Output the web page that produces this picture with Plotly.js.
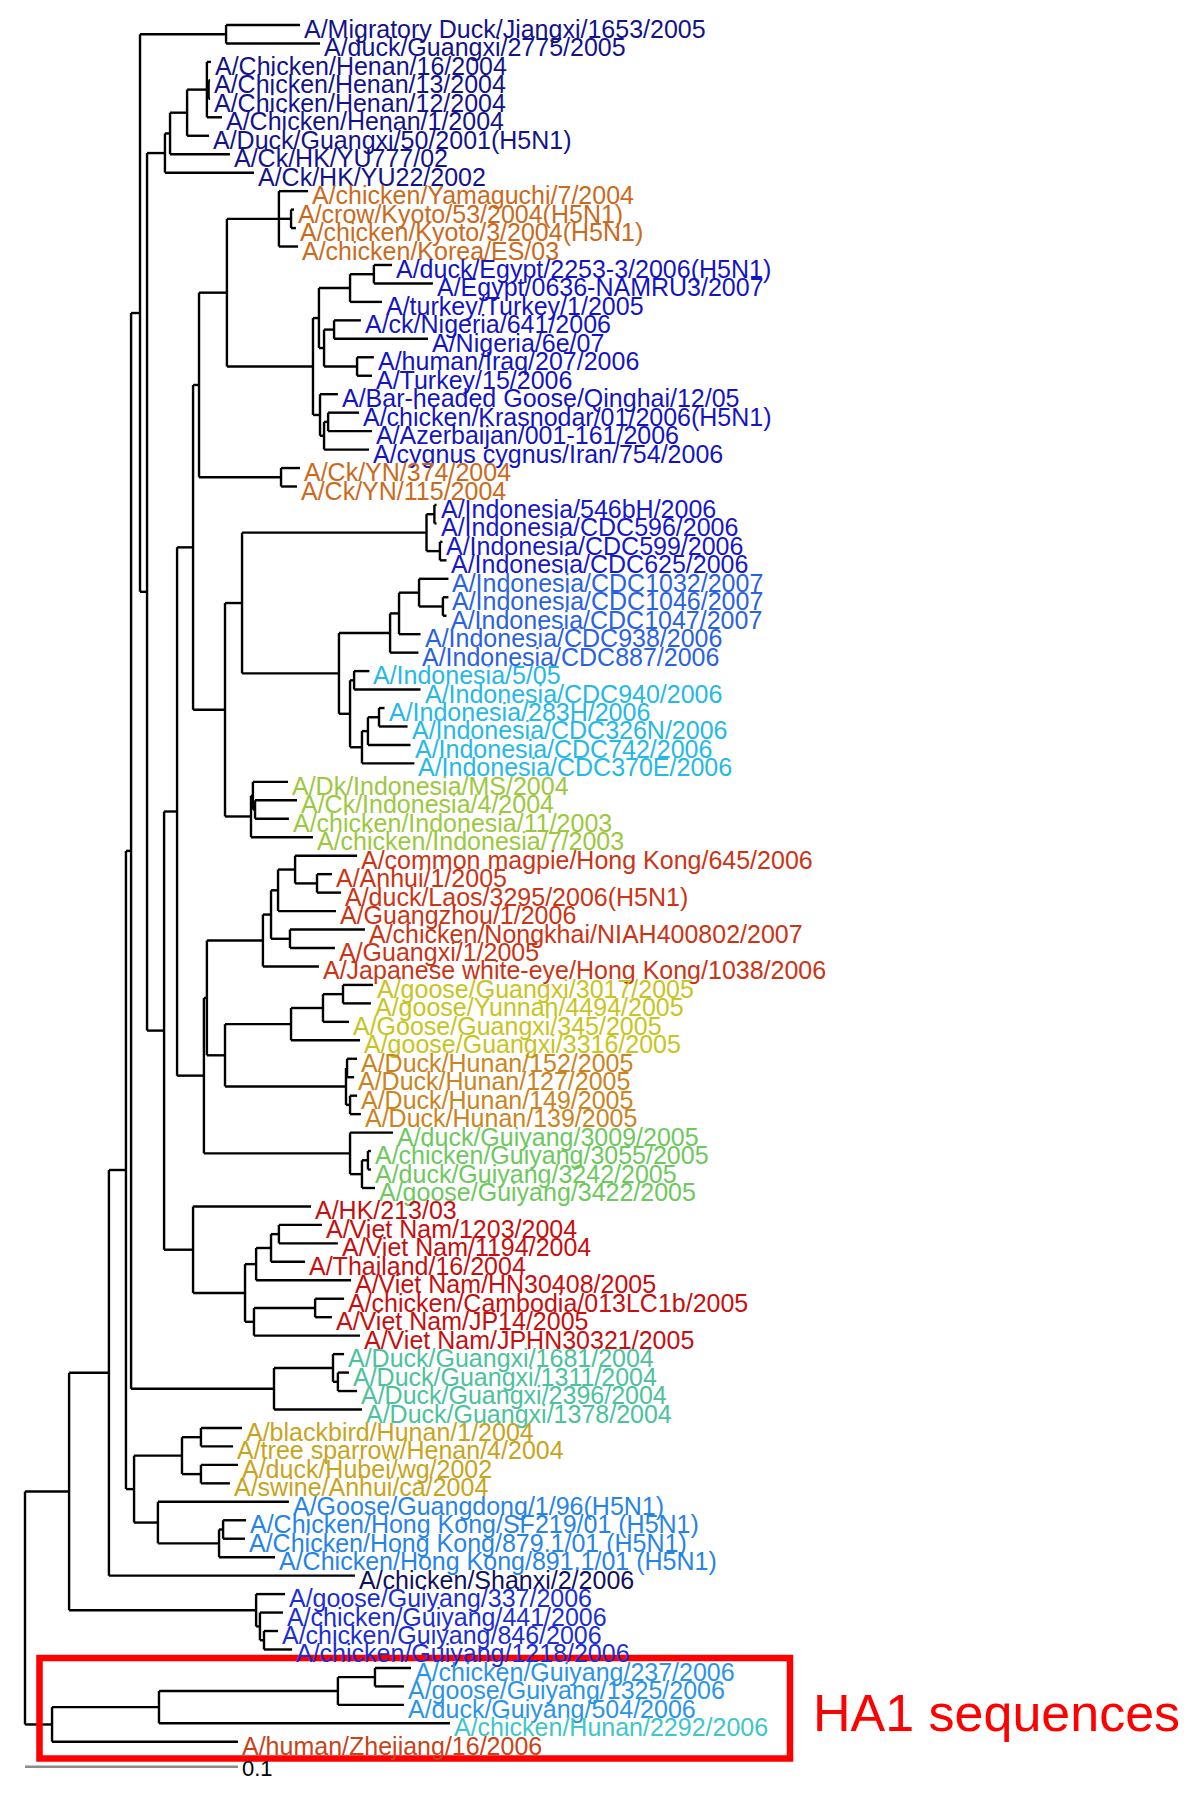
<!DOCTYPE html>
<html>
<head>
<meta charset="utf-8">
<script src="https://cdn.plot.ly/plotly-3.0.1.min.js"></script>
<style>html,body{margin:0;padding:0;background:#fff;}#chart{width:1200px;height:1798px;}</style>
</head>
<body>
<div id="chart"></div>
<script>
// ---- Tree data: leaves in display order (top to bottom) ----
const leafNames = [
 "A/Migratory Duck/Jiangxi/1653/2005","A/duck/Guangxi/2775/2005","A/Chicken/Henan/16/2004","A/Chicken/Henan/13/2004",
 "A/Chicken/Henan/12/2004","A/Chicken/Henan/1/2004","A/Duck/Guangxi/50/2001(H5N1)","A/Ck/HK/YU777/02","A/Ck/HK/YU22/2002",
 "A/chicken/Yamaguchi/7/2004","A/crow/Kyoto/53/2004(H5N1)","A/chicken/Kyoto/3/2004(H5N1)","A/chicken/Korea/ES/03",
 "A/duck/Egypt/2253-3/2006(H5N1)","A/Egypt/0636-NAMRU3/2007","A/turkey/Turkey/1/2005","A/ck/Nigeria/641/2006","A/Nigeria/6e/07",
 "A/human/Iraq/207/2006","A/Turkey/15/2006","A/Bar-headed Goose/Qinghai/12/05","A/chicken/Krasnodar/01/2006(H5N1)",
 "A/Azerbaijan/001-161/2006","A/cygnus cygnus/Iran/754/2006","A/Ck/YN/374/2004","A/Ck/YN/115/2004",
 "A/Indonesia/546bH/2006","A/Indonesia/CDC596/2006","A/Indonesia/CDC599/2006","A/Indonesia/CDC625/2006",
 "A/Indonesia/CDC1032/2007","A/Indonesia/CDC1046/2007","A/Indonesia/CDC1047/2007","A/Indonesia/CDC938/2006","A/Indonesia/CDC887/2006",
 "A/Indonesia/5/05","A/Indonesia/CDC940/2006","A/Indonesia/283H/2006","A/Indonesia/CDC326N/2006","A/Indonesia/CDC742/2006","A/Indonesia/CDC370E/2006",
 "A/Dk/Indonesia/MS/2004","A/Ck/Indonesia/4/2004","A/chicken/Indonesia/11/2003","A/chicken/Indonesia/7/2003",
 "A/common magpie/Hong Kong/645/2006","A/Anhui/1/2005","A/duck/Laos/3295/2006(H5N1)","A/Guangzhou/1/2006",
 "A/chicken/Nongkhai/NIAH400802/2007","A/Guangxi/1/2005","A/Japanese white-eye/Hong Kong/1038/2006",
 "A/goose/Guangxi/3017/2005","A/goose/Yunnan/4494/2005","A/Goose/Guangxi/345/2005","A/goose/Guangxi/3316/2005",
 "A/Duck/Hunan/152/2005","A/Duck/Hunan/127/2005","A/Duck/Hunan/149/2005","A/Duck/Hunan/139/2005",
 "A/duck/Guiyang/3009/2005","A/chicken/Guiyang/3055/2005","A/duck/Guiyang/3242/2005","A/goose/Guiyang/3422/2005",
 "A/HK/213/03","A/Viet Nam/1203/2004","A/Viet Nam/1194/2004","A/Thailand/16/2004","A/Viet Nam/HN30408/2005",
 "A/chicken/Cambodia/013LC1b/2005","A/Viet Nam/JP14/2005","A/Viet Nam/JPHN30321/2005",
 "A/Duck/Guangxi/1681/2004","A/Duck/Guangxi/1311/2004","A/Duck/Guangxi/2396/2004","A/Duck/Guangxi/1378/2004",
 "A/blackbird/Hunan/1/2004","A/tree sparrow/Henan/4/2004","A/duck/Hubei/wg/2002","A/swine/Anhui/ca/2004",
 "A/Goose/Guangdong/1/96(H5N1)","A/Chicken/Hong Kong/SF219/01 (H5N1)","A/Chicken/Hong Kong/879.1/01 (H5N1)","A/Chicken/Hong Kong/891.1/01 (H5N1)",
 "A/chicken/Shanxi/2/2006","A/goose/Guiyang/337/2006","A/chicken/Guiyang/441/2006","A/chicken/Guiyang/846/2006","A/chicken/Guiyang/1218/2006",
 "A/chicken/Guiyang/237/2006","A/goose/Guiyang/1325/2006","A/duck/Guiyang/504/2006","A/chicken/Hunan/2292/2006","A/human/Zhejiang/16/2006"
];
const leafParent = [
 "nA","nA","n207h","n208h","n208h","n207h","n187","n170","n165",
 "nJP","nKY","nKY","nJP",
 "n374e","n374e","n350e","nNg","nNg","nIq","nIq","nE3","nE5","nE5","nE4","nYN","nYN",
 "n436","n436","n442","n442",
 "n419","n445","n445","n399","n390",
 "n354","n354","n379","n379","n368","n362",
 "n253","n255","n255","n251",
 "n295","n317","n317","n278","n290","n290","n263",
 "n343","n343","n323","n291",
 "n347","n347","n350h","n350h",
 "n350g","n368g","n368g","n362g",
 "n193b","n279v","n279v","n271v","n256","n315","n315","n254",
 "n333","n338g","n338g","nGX04",
 "n201a","n201a","n201b","n201b",
 "n158","n223","n223","n219",
 "n109","nG06","nG06b","nG06c","nG06c",
 "n375","n375","n338","n159","n52"
];
// distance from root (substitutions/site)
const leafDist = [
 0.1291,0.1385,0.0873,0.0869,0.0869,0.0925,0.0864,0.0962,0.1075,
 0.1329,0.1263,0.1272,0.1282,
 0.1723,0.1915,0.1676,0.1577,0.1892,0.1638,0.1629,0.1469,0.1568,0.1629,0.1615,0.1291,0.1277,
 0.1932,0.1932,0.1960,0.1979,
 0.1988,0.1988,0.1979,0.1857,0.1847,
 0.1617,0.1857,0.1688,0.1796,0.1810,0.1828,
 0.1235,0.1277,0.1239,0.1352,
 0.1559,0.1441,0.1484,0.1460,0.1596,0.1455,0.1380,
 0.1634,0.1624,0.1521,0.1573,
 0.1559,0.1545,0.1559,0.1577,
 0.1728,0.1624,0.1624,0.1643,
 0.1343,0.1394,0.1469,0.1315,0.1531,0.1498,0.1441,0.1573,
 0.1498,0.1521,0.1559,0.1582,
 0.1019,0.0977,0.1000,0.0962,
 0.1239,0.1038,0.1033,0.1174,
 0.1549,0.1221,0.1211,0.1188,0.1254,
 0.1812,0.1779,0.1779,0.1995,0.1000
];
const leafGroup = [
 0,0,0,0,0,0,0,0,0,
 1,1,1,1,
 2,2,2,2,2,2,2,2,2,2,2,1,1,
 3,3,3,3,
 4,4,4,4,4,
 5,5,5,5,5,5,
 6,6,6,6,
 7,7,7,7,7,7,7,
 8,8,8,8,
 9,9,9,9,
 10,10,10,10,
 11,11,11,11,11,11,11,11,
 12,12,12,12,
 13,13,13,13,
 14,14,14,14,
 15,16,16,16,16,
 17,17,17,18,19
];
const groupColors = [
 "#13138c","#cc6a1c","#1414c4","#1717cc","#2a62e4","#26b8e6","#9cc840","#cc3414","#c8c422","#cc8420",
 "#6ec85e","#c80e0e","#4cc29c","#c8a41c","#2684e8","#10105e","#1c2ed4","#2a94e8","#40c6c6","#c84418"
];
// internal nodes
const nodeIds = [
 "R","n69","n52","n159","n338","n375","n109","nG06","nG06b","nG06c","n126","n131","n134","n182","n201a","n201b",
 "n158","n219","n223","n140","nGX04","n333","n338g","nA","n147","n165","n170","n187","n207h","n208h","n164","n177",
 "n193b","n193a","n204","n199","n227","nJP","nKY","nE1","nE2","n350e","n374e","nN","nNg","nIq","nE3","nE4","nE5",
 "nYN","n225i","n242","n428","n436","n442","n339","n390","n399","n419","n445","n350c","n354","n362","n368","n379",
 "n251","n253","n255","n207","n263","n271","n278","n295","n317","n290","n225g","n291","n323","n343","n346","n347",
 "n350h","n350g","n362g","n368g","n245","n256","n271v","n279v","n254","n315"
];
const nodeParent = [
 null,"R","R","n52","n159","n338","n69","n69","nG06","nG06b","n109","n126","n126","n134","n182","n182",
 "n134","n158","n219","n131","n131","nGX04","n333","n140","n140","n147","n165","n170","n187","n207h","n147","n164",
 "n164","n177","n177","n193a","n199","n227","nJP","n227","nE1","nE2","n350e","nE2","nN","nN","nE1","nE3","nE4",
 "n199","n193a","n225i","n242","n428","n428","n242","n339","n390","n399","n419","n339","n350c","n350c","n362","n368",
 "n225i","n251","n253","n204","n207","n263","n271","n278","n295","n271","n207","n225g","n291","n323","n225g","n346",
 "n346","n204","n350g","n362g","n193b","n245","n256","n271v","n245","n254"
];
const nodeDist = [
 0,0.0207,0.0127,0.0629,0.1469,0.1643,0.0394,0.1085,0.1103,0.1122,0.0474,0.0498,0.0512,0.0737,0.0826,0.0826,
 0.0624,0.0911,0.0930,0.0540,0.1169,0.1446,0.1469,0.0944,0.0573,0.0657,0.0681,0.0761,0.0854,0.0862,0.0653,0.0714,
 0.0789,0.0789,0.0840,0.0817,0.0948,0.1192,0.1249,0.1352,0.1380,0.1526,0.1638,0.1404,0.1451,0.1559,0.1385,0.1404,0.1423,
 0.1202,0.0939,0.1019,0.1885,0.1922,0.1948,0.1474,0.1714,0.1756,0.1850,0.1962,0.1526,0.1545,0.1582,0.1610,0.1662,
 0.1061,0.1070,0.1080,0.0854,0.1117,0.1155,0.1188,0.1268,0.1371,0.1244,0.0939,0.1249,0.1399,0.1493,0.1507,0.1512,
 0.1526,0.1526,0.1582,0.1610,0.1033,0.1085,0.1155,0.1192,0.1075,0.1362
];
const scaleBarLength = 0.1;
const scaleBarLabel = "0.1";
const boxLabel = "HA1 sequences";

// ---- Build geometry from the tree ----
const dist = {}, children = {};
nodeIds.forEach((id, k) => { dist[id] = nodeDist[k]; children[id] = []; });
const yOf = {};
leafNames.forEach((nm, i) => { children[leafParent[i]].push({leaf: i}); });
nodeIds.forEach((id, k) => { if (nodeParent[k]) children[nodeParent[k]].push({node: id}); });
function nodeY(id) {
  if (yOf[id] !== undefined) return yOf[id];
  const ys = children[id].map(c => c.leaf !== undefined ? c.leaf : nodeY(c.node));
  yOf[id] = (Math.min(...ys) + Math.max(...ys)) / 2;
  return yOf[id];
}
nodeIds.forEach(id => nodeY(id));

const lx = [], ly = [];
function seg(x0, y0, x1, y1) { lx.push(x0, x1, null); ly.push(y0, y1, null); }
nodeIds.forEach((id, k) => {
  const ys = children[id].map(c => c.leaf !== undefined ? c.leaf : yOf[c.node]);
  seg(dist[id], Math.min(...ys), dist[id], Math.max(...ys));
  if (nodeParent[k]) seg(dist[nodeParent[k]], yOf[id], dist[id], yOf[id]);
});
leafNames.forEach((nm, i) => { seg(dist[leafParent[i]], i, leafDist[i], i); });

const treeTrace = {x: lx, y: ly, mode: 'lines', type: 'scatter', hoverinfo: 'skip',
  line: {color: '#000000', width: 2.4}, showlegend: false};
const nRows = leafNames.length;
const scaleY = nRows + 0.35;
const scaleTrace = {x: [0, scaleBarLength], y: [scaleY, scaleY], mode: 'lines', type: 'scatter',
  hoverinfo: 'skip', line: {color: '#8c8c8c', width: 2.6}, showlegend: false};

const FONT = 'Liberation Sans, Arial, Helvetica, sans-serif';
const annotations = leafNames.map((nm, i) => ({
  x: leafDist[i], y: i, xref: 'x', yref: 'y', text: nm, showarrow: false,
  xanchor: 'left', yanchor: 'middle', xshift: 2, yshift: -4,
  font: {family: FONT, size: 25, color: groupColors[leafGroup[i]]}
}));
annotations.push({x: scaleBarLength, y: scaleY, xref: 'x', yref: 'y', text: scaleBarLabel, showarrow: false,
  xanchor: 'left', yanchor: 'middle', xshift: 2, yshift: -2, font: {family: FONT, size: 22, color: '#000'}});
annotations.push({x: 0.676, y: 0.0475, xref: 'paper', yref: 'paper', text: boxLabel, showarrow: false,
  xanchor: 'left', yanchor: 'middle', font: {family: FONT, size: 52, color: '#ff0000'}});

const layout = {
  width: 1200, height: 1798, margin: {l: 0, r: 0, t: 0, b: 0},
  paper_bgcolor: '#ffffff', plot_bgcolor: '#ffffff', showlegend: false,
  xaxis: {range: [-25/2130, 1175/2130], visible: false, fixedrange: true},
  yaxis: {range: [(1798-25)/18.46, -25/18.46], visible: false, fixedrange: true},
  annotations: annotations,
  shapes: [{type: 'rect', xref: 'paper', yref: 'paper', x0: 39.5/1200, x1: 790/1200,
    y0: 1 - 1758.5/1798, y1: 1 - 1658/1798, line: {color: '#ff0000', width: 6.5}, layer: 'above'}]
};
Plotly.newPlot('chart', [treeTrace, scaleTrace], layout, {staticPlot: true, displayModeBar: false});
</script>
</body>
</html>
